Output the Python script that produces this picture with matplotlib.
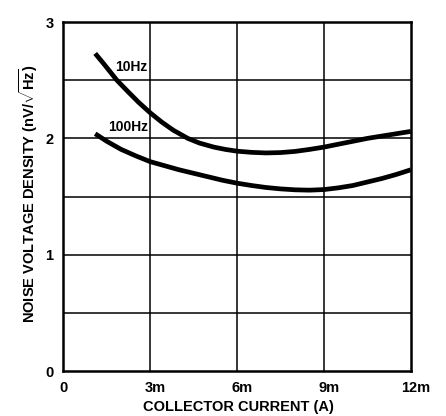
import matplotlib
matplotlib.use("Agg")
import matplotlib.pyplot as plt
import matplotlib.transforms as mtransforms

plt.rcParams['font.family'] = ['Liberation Sans', 'DejaVu Sans']
plt.rcParams['font.weight'] = 'bold'
plt.rcParams['mathtext.fontset'] = 'custom'
plt.rcParams['mathtext.rm'] = 'Liberation Sans:bold'
plt.rcParams['mathtext.bf'] = 'Liberation Sans:bold'
plt.rcParams['mathtext.it'] = 'Liberation Sans:bold'

# Data (collector current in mA, noise density in nV/sqrt(Hz))
x_10hz = [1.1, 1.4, 1.85, 2.2, 2.6, 3.0, 3.4, 3.8, 4.3, 4.7, 5.2, 5.6, 6.0, 6.5, 7.0,
          7.5, 8.0, 8.5, 9.0, 9.5, 10.0, 10.5, 11.0, 11.5, 12.0]
y_10hz = [2.73, 2.64, 2.50, 2.41, 2.31, 2.22, 2.14, 2.07, 2.00, 1.96, 1.925, 1.905, 1.89, 1.88, 1.875,
          1.878, 1.888, 1.905, 1.925, 1.95, 1.975, 2.0, 2.02, 2.04, 2.06]
x_100hz = [1.1, 1.5, 2.0, 2.5, 3.0, 3.5, 4.0, 4.5, 5.0, 5.5, 6.0, 6.5, 7.0, 7.5, 8.0,
           8.5, 9.0, 9.5, 10.0, 10.5, 11.0, 11.5, 12.0]
y_100hz = [2.04, 1.975, 1.905, 1.85, 1.80, 1.765, 1.73, 1.70, 1.67, 1.64, 1.615, 1.595, 1.578, 1.566, 1.558,
           1.555, 1.56, 1.575, 1.595, 1.625, 1.655, 1.69, 1.73]

x_ticks = [0, 3, 6, 9, 12]
x_tick_labels = ['0', '3m', '6m', '9m', '12m']
y_ticks = [0, 1, 2, 3]
y_tick_labels = ['0', '1', '2', '3']
x_grid = [3, 6, 9]
y_grid = [0.5, 1, 1.5, 2, 2.5]

fig = plt.figure(figsize=(4.46, 4.16), dpi=100)
ax = fig.add_axes([0.142, 0.108, 0.779, 0.839])
ax.set_xlim(0, 12)
ax.set_ylim(0, 3)

for gx in x_grid:
    ax.axvline(gx, color='black', lw=1.1, zorder=1)
for gy in y_grid:
    ax.axhline(gy, color='black', lw=1.1, zorder=1)

ax.plot(x_10hz, y_10hz, color='black', lw=3.4, solid_joinstyle='round', solid_capstyle='butt', zorder=3)
ax.plot(x_100hz, y_100hz, color='black', lw=3.4, solid_joinstyle='round', solid_capstyle='butt', zorder=3)

ax.text(2.92, 2.61, '10Hz', ha='right', va='center', fontsize=10, fontweight='bold')
ax.text(2.92, 2.10, '100Hz', ha='right', va='center', fontsize=10, fontweight='bold')

ax.set_xticks(x_ticks)
ax.set_xticklabels(x_tick_labels)
ax.set_yticks(y_ticks)
ax.set_yticklabels(y_tick_labels)
ax.tick_params(length=0, labelsize=10.5, pad=7)
for lab in ax.get_xticklabels():
    lab.set_fontweight('bold')
    if 'm' in lab.get_text():
        lab.set_transform(lab.get_transform() + mtransforms.ScaledTranslation(5/100, 0, fig.dpi_scale_trans))
for lab in ax.get_yticklabels():
    lab.set_fontweight('bold')

for s in ax.spines.values():
    s.set_linewidth(1.8)
    s.set_color('black')

fig.text(238.5/446, 1 - 407/416, 'COLLECTOR CURRENT (A)', ha='center', va='center', fontsize=10.5, fontweight='bold')
fig.text(28.5/446, 1 - 193.5/416, r'NOISE VOLTAGE DENSITY (nV/$\sqrt{\mathrm{Hz}}$)', ha='center', va='center',
         rotation=90, fontsize=10.5, fontweight='bold')

fig.savefig('out.png', dpi=100)
